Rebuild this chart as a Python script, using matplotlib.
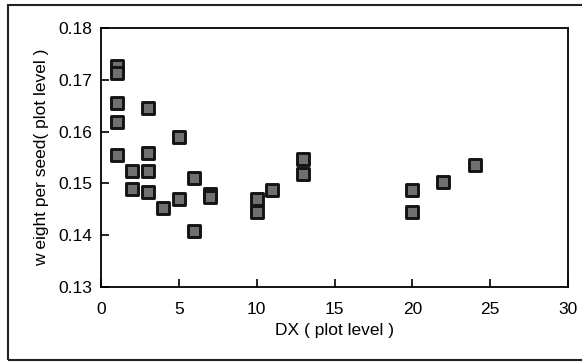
import numpy as np
import matplotlib.pyplot as plt
from matplotlib.patches import Rectangle

# DX (plot level) and weight per seed (plot level)
dx = [1, 1, 1, 1, 1,
      2, 2,
      3, 3, 3, 3,
      4,
      5, 5,
      6, 6,
      7, 7,
      10, 10,
      11,
      13, 13,
      20, 20,
      22,
      24]
weight = [0.1727, 0.1714, 0.1656, 0.1619, 0.1554,
          0.1523, 0.1490,
          0.1646, 0.1559, 0.1523, 0.1484,
          0.1453,
          0.1589, 0.1469,
          0.1511, 0.1409,
          0.1480, 0.1473,
          0.1469, 0.1444,
          0.1487,
          0.1548, 0.1518,
          0.1487, 0.1444,
          0.1502,
          0.1536]

xticks = [0, 5, 10, 15, 20, 25, 30]
yticks = [0.13, 0.14, 0.15, 0.16, 0.17, 0.18]

plt.rcParams['font.family'] = ['Liberation Sans', 'DejaVu Sans']

fig = plt.figure(figsize=(5.82, 3.62), dpi=100)
ax = fig.add_axes([0.1735, 0.2072, 0.8025, 0.7155])

ax.scatter(dx, weight, marker='s', s=64, facecolor='#707070',
           edgecolor='#141414', linewidths=2.1, zorder=3)

ax.set_xlim(0, 30)
ax.set_ylim(0.13, 0.18)
ax.set_xticks(xticks)
ax.set_xticklabels([str(t) for t in xticks])
ax.set_yticks(yticks)
ax.set_yticklabels(['%.2f' % t for t in yticks])
ax.tick_params(direction='in', length=6, width=1.2, labelsize=12.5,
               top=False, right=False, colors='black')
ax.tick_params(axis='x', pad=11)
ax.tick_params(axis='y', pad=6)
for s in ax.spines.values():
    s.set_linewidth(1.3)

ax.set_xlabel('DX ( plot level )', fontsize=12.5, labelpad=4)
ax.set_ylabel('w eight per seed( plot level )', fontsize=12.5, labelpad=7)

# outer frame around the whole chart
fig.patches.append(Rectangle((8 / 582, 2 / 362), 1.2, (355 / 362),
                             transform=fig.transFigure, fill=False,
                             edgecolor='#222222', linewidth=1.5))

fig.savefig('out.png', dpi=100)
